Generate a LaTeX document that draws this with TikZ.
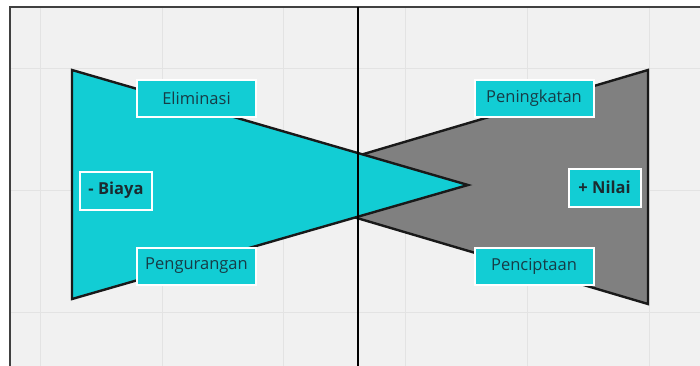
\documentclass[tikz,border=0pt]{standalone}
\usepackage{fontspec}
\setmainfont{Open Sans}
\usepackage{tikz}

\definecolor{panelgray}{HTML}{F1F1F1}
\definecolor{gridgray}{HTML}{E3E3E3}
\definecolor{bowcyan}{HTML}{12CDD4}
\definecolor{bowgray}{HTML}{808080}
\definecolor{labeltext}{HTML}{173C46}
\definecolor{boldtext}{HTML}{1B2B30}

\begin{document}
\begin{tikzpicture}[x=1pt,y=-1pt,
    label box/.style={rectangle,draw=white,line width=2pt,fill=bowcyan,
        text=labeltext,font=\fontsize{16.5}{19}\selectfont,
        minimum width=119pt,minimum height=37pt,inner sep=0pt},
    side box/.style={label box,text=boldtext,font=\fontsize{16.5}{19}\selectfont\bfseries,
        minimum width=72pt,minimum height=38pt},
    bow edge/.style={draw=black!90,line width=2.4pt}]

\useasboundingbox (0,0) rectangle (700,365);

% Draw the panel and its grid.
\fill[white] (0,0) rectangle (700,365);
\fill[panelgray] (10,7) rectangle (704,370);
\foreach \gx in {40,162,283,405,527,649}
    \draw[gridgray,line width=1pt] (\gx,8) -- (\gx,370);
\foreach \gy in {68,190,312}
    \draw[gridgray,line width=1pt] (11,\gy) -- (704,\gy);
\draw[black!75,line width=2pt] (10,370) -- (10,7) -- (704,7);

% Corners of the two wedges.
\coordinate (gtop) at (648,70);
\coordinate (gbot) at (648,304);
\coordinate (gtip) at (252,187);
\coordinate (ctop) at (72,70);
\coordinate (cbot) at (72,299);
\coordinate (ctip) at (468,185);

\draw[bow edge,fill=bowgray] (gtop) -- (gbot) -- (gtip) -- cycle;
\draw[bow edge,fill=bowcyan] (ctop) -- (ctip) -- (cbot) -- cycle;

% Middle divider.
\draw[black,line width=1.2pt] (358,7) -- (358,370);

\node[label box] (elim) at (196.5,98.5) {Eliminasi};
\node[label box] (kurang) at (196.5,266) {Pengurangan};
\node[label box] (tingkat) at (534,98.5) {Peningkatan};
\node[label box] (cipta) at (534,266) {Penciptaan};

\node[side box] (biaya) at (116,190.5) {- Biaya};
\node[side box] (nilai) at (604.5,187.5) {+ Nilai};

\end{tikzpicture}
\end{document}
